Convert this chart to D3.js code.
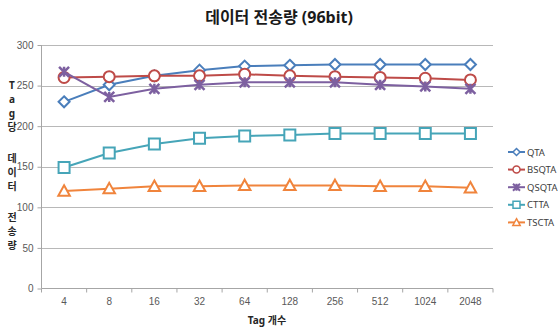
<!DOCTYPE html>
<html>
<head>
<meta charset="utf-8">
<script src="https://cdn.jsdelivr.net/npm/d3@7"></script>
<style>
  body { margin: 0; background: #fff; }
  svg { font-family: "Noto Sans", "Noto Sans CJK KR", sans-serif; }
</style>
</head>
<body>
<div id="container"></div>
<script>
const width = 558;
const height = 331;

const tags = ["4", "8", "16", "32", "64", "128", "256", "512", "1024", "2048"];
const yTicks = [0, 50, 100, 150, 200, 250, 300];

const qta   = [230, 251, 262, 269, 274, 275, 276, 276, 276, 276];
const bsqta = [260, 261, 262, 262, 264, 262, 261, 260, 259, 257];
const qsqta = [267, 236, 246, 251, 254, 254, 254, 251, 249, 246];
const ctta  = [149, 167, 178, 185, 188, 189, 191, 191, 191, 191];
const tscta = [120, 123, 126, 126, 127, 127, 127, 126, 126, 124];

const series = [
    { name: "QTA",   values: qta,   color: "#4a7ebb", marker: "diamond" },
    { name: "BSQTA", values: bsqta, color: "#be4b48", marker: "circle" },
    { name: "QSQTA", values: qsqta, color: "#7d60a0", marker: "star" },
    { name: "CTTA",  values: ctta,  color: "#46a5b8", marker: "square" },
    { name: "TSCTA", values: tscta, color: "#f0843c", marker: "triangle" }
];

const margin = { left: 41.5, right: 493, top: 45, bottom: 288.5 };

const svg = d3.select("#container").append("svg")
    .attr("width", width)
    .attr("height", height);

const x = d3.scaleBand()
    .domain(tags)
    .range([margin.left, margin.right]);

const y = d3.scaleLinear()
    .domain([0, 300])
    .range([margin.bottom, margin.top]);

const cx = d => x(d) + x.bandwidth() / 2;

// gridlines
svg.append("g")
    .selectAll("line")
    .data(yTicks.filter(t => t > 0))
    .enter()
    .append("line")
    .attr("x1", margin.left)
    .attr("x2", margin.right)
    .attr("y1", d => Math.round(y(d)) + 0.5)
    .attr("y2", d => Math.round(y(d)) + 0.5)
    .attr("stroke", "#b8b8b8")
    .attr("stroke-width", 1);

// y axis
const yAxis = svg.append("g")
    .attr("transform", `translate(${margin.left},0)`)
    .call(d3.axisLeft(y).tickValues(yTicks).tickSize(4).tickPadding(4));
yAxis.select(".domain").attr("stroke", "#a6a6a6").attr("d", `M0,${margin.top}V${margin.bottom}`);
yAxis.selectAll(".tick line").attr("stroke", "#a6a6a6");
yAxis.selectAll(".tick text")
    .attr("fill", "#595959")
    .style("font-size", "10px");

// x axis
const xAxis = svg.append("g")
    .attr("transform", `translate(0,${margin.bottom})`)
    .call(d3.axisBottom(x).tickSize(0).tickPadding(9));
xAxis.select(".domain").attr("stroke", "#a6a6a6").attr("d", `M${margin.left},0H${margin.right}`);
xAxis.selectAll(".tick text")
    .attr("fill", "#595959")
    .style("font-size", "10px");
xAxis.selectAll(".tickmark")
    .data(d3.range(tags.length + 1))
    .enter()
    .append("line")
    .attr("x1", i => margin.left + i * x.bandwidth())
    .attr("x2", i => margin.left + i * x.bandwidth())
    .attr("y1", 0)
    .attr("y2", 4)
    .attr("stroke", "#a6a6a6");

function markerPath(type, s) {
    const h = s / 2;
    if (type === "diamond") return `M0,${-h}L${h},0L0,${h}L${-h},0Z`;
    if (type === "square") return `M${-h},${-h}H${h}V${h}H${-h}Z`;
    if (type === "triangle") return `M0,${-h * 1.05}L${h * 1.05},${h * 0.85}L${-h * 1.05},${h * 0.85}Z`;
    if (type === "circle") return d3.arc()({ innerRadius: 0, outerRadius: h, startAngle: 0, endAngle: 2 * Math.PI });
    if (type === "star") return `M${-h},${-h}L${h},${h}M${h},${-h}L${-h},${h}M0,${-h}V${h}`;
}

const line = d3.line()
    .x((d, i) => cx(tags[i]))
    .y(d => y(d));

series.forEach(s => {
    const g = svg.append("g");
    g.append("path")
        .attr("d", line(s.values))
        .attr("fill", "none")
        .attr("stroke", s.color)
        .attr("stroke-width", 2);
    g.selectAll("path.m")
        .data(s.values)
        .enter()
        .append("path")
        .attr("class", "m")
        .attr("transform", (d, i) => `translate(${cx(tags[i])},${y(d)})`)
        .attr("d", markerPath(s.marker, s.marker === "star" ? 10 : 11))
        .attr("fill", s.marker === "star" ? "none" : "#fff")
        .attr("stroke", s.color)
        .attr("stroke-width", s.marker === "star" ? 2.5 : 2);
});

// legend
const legend = svg.append("g");
series.forEach((s, i) => {
    const ly = 152 + i * 17.6;
    legend.append("line")
        .attr("x1", 508).attr("x2", 525)
        .attr("y1", ly).attr("y2", ly)
        .attr("stroke", s.color)
        .attr("stroke-width", 2);
    legend.append("path")
        .attr("transform", `translate(516.5,${ly})`)
        .attr("d", markerPath(s.marker, 7))
        .attr("fill", s.marker === "star" ? "none" : "#fff")
        .attr("stroke", s.color)
        .attr("stroke-width", s.marker === "star" ? 2 : 1.5);
    legend.append("text")
        .attr("x", 527)
        .attr("y", ly + 3.5)
        .attr("fill", "#404040")
        .style("font-size", "9.5px")
        .text(s.name);
});

// title
svg.append("text")
    .attr("x", 279)
    .attr("y", 23)
    .attr("text-anchor", "middle")
    .style("font-size", "16px")
    .style("font-weight", "bold")
    .attr("fill", "#1a1a1a")
    .text("데이터 전송량 (96bit)");

// x title
svg.append("text")
    .attr("x", 267)
    .attr("y", 324)
    .attr("text-anchor", "middle")
    .style("font-size", "10px")
    .style("font-weight", "bold")
    .attr("fill", "#262626")
    .text("Tag 개수");

// y title, stacked characters
const yTitle = "Tag당 데이터 전송량";
let yy = 89;
yTitle.split("").forEach(ch => {
    if (ch === " ") { yy += 17; return; }
    svg.append("text")
        .attr("x", 12)
        .attr("y", yy)
        .attr("text-anchor", "middle")
        .style("font-size", "10px")
        .style("font-weight", "bold")
        .attr("fill", "#262626")
        .text(ch);
    yy += 14;
});
</script>
</body>
</html>
